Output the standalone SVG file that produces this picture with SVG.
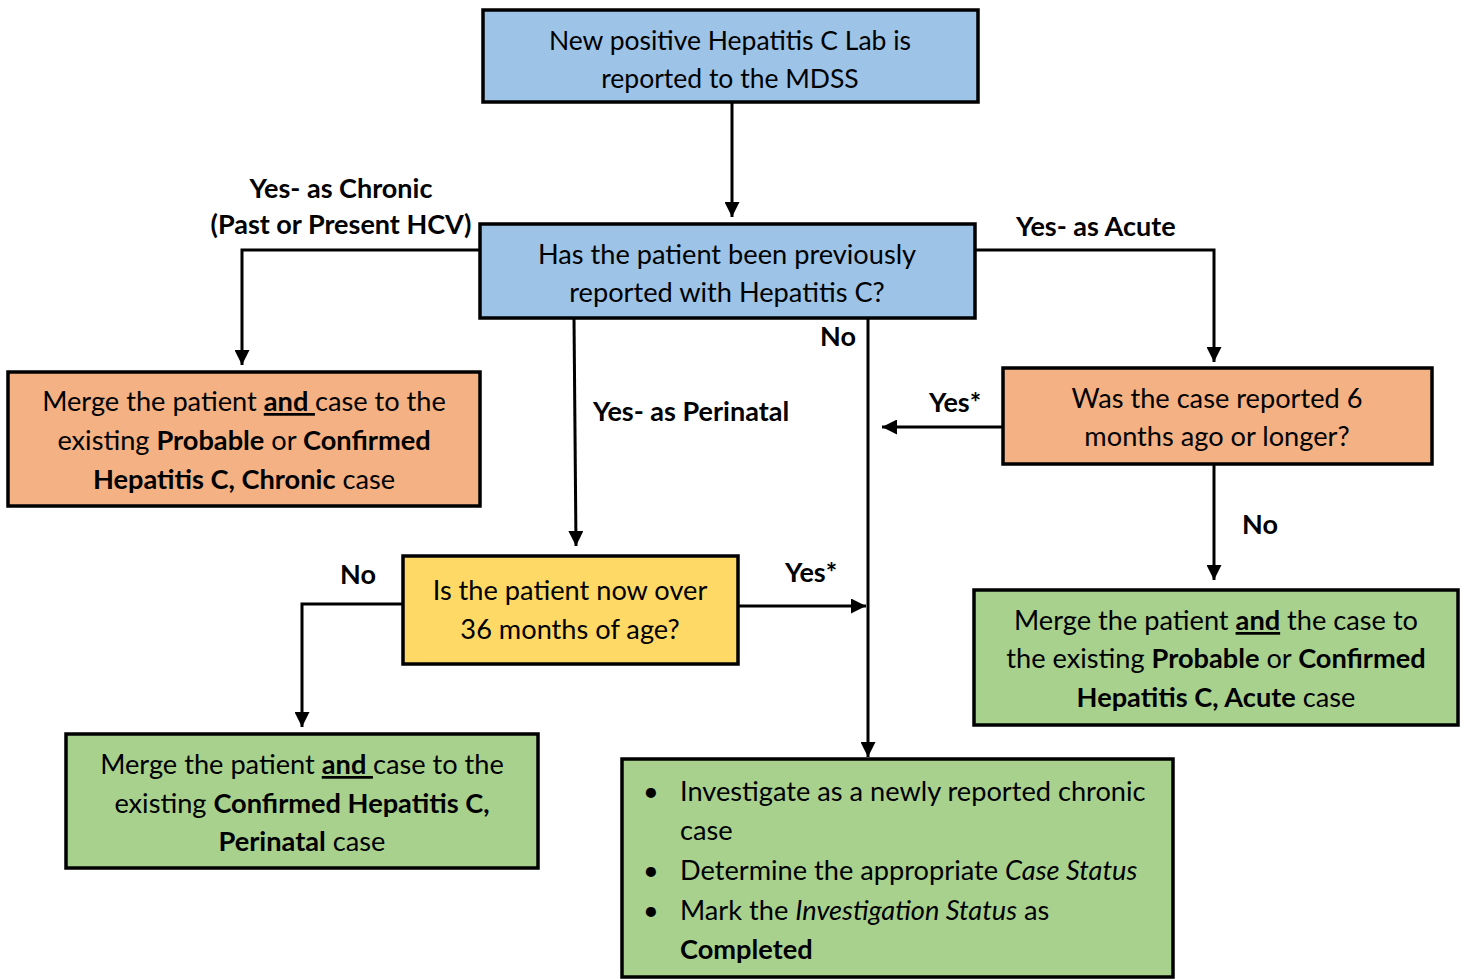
<svg xmlns="http://www.w3.org/2000/svg" width="1464" height="979" viewBox="0 0 1464 979">
<defs>
<style>
.box{stroke:#000;stroke-width:3.5}
.blue{fill:#9DC3E6}
.orange{fill:#F4B183}
.yellow{fill:#FFD966}
.green{fill:#A9D18E}
text{font-family:Lato,"Open Sans","Liberation Sans",sans-serif;font-size:27.2px;fill:#000}
.c{text-anchor:middle}
.lbl{font-weight:bold;font-size:27px}
.b{font-weight:bold}
.i{font-style:italic}
.u{text-decoration:underline}
.sm{font-size:26.5px}
.conn{fill:none;stroke:#000;stroke-width:3}
</style>
<marker id="ah" viewBox="0 0 10 10" refX="10" refY="5" markerWidth="15" markerHeight="15" markerUnits="userSpaceOnUse" orient="auto">
<path d="M0,0 L10,5 L0,10 z" fill="#000"/>
</marker>
</defs>
<rect width="1464" height="979" fill="#fff"/>
<g id="connectors">
<path class="conn" d="M732,102 V217" marker-end="url(#ah)"/>
<path class="conn" d="M480,250 H242 V365" marker-end="url(#ah)"/>
<path class="conn" d="M975,250 H1214 V362" marker-end="url(#ah)"/>
<path class="conn" d="M1003,427 H882" marker-end="url(#ah)"/>
<path class="conn" d="M1214,464 V580" marker-end="url(#ah)"/>
<path class="conn" d="M574,318 L576,546" marker-end="url(#ah)"/>
<path class="conn" d="M868,318 V757" marker-end="url(#ah)"/>
<path class="conn" d="M738,606 H866" marker-end="url(#ah)"/>
<path class="conn" d="M403,604 H302 V727" marker-end="url(#ah)"/>
<text class="lbl c" x="341" y="198">Yes- as Chronic</text>
<text class="lbl c" x="341" y="234">(Past or Present HCV)</text>
<text class="lbl" x="1016" y="236">Yes- as Acute</text>
<text class="lbl" x="593" y="421">Yes- as Perinatal</text>
<text class="lbl" x="820" y="346">No</text>
<text class="lbl" x="929" y="412">Yes*</text>
<text class="lbl" x="1242" y="534">No</text>
<text class="lbl" x="785" y="582">Yes*</text>
<text class="lbl" x="340" y="584">No</text>
</g>
<g id="n1">
<rect class="box blue" x="483" y="10" width="495" height="92"/>
<text class="c sm" x="730" y="50">New positive Hepatitis C Lab is</text>
<text class="c sm" x="730" y="88">reported to the MDSS</text>
</g>
<g id="n2">
<rect class="box blue" x="480" y="224" width="495" height="94"/>
<text class="c" x="727" y="264">Has the patient been previously</text>
<text class="c" x="727" y="302">reported with Hepatitis C?</text>
</g>
<g id="n3">
<rect class="box orange" x="8" y="372" width="472" height="134"/>
<text class="c" x="244" y="411">Merge the patient <tspan class="b u">and </tspan>case to the</text>
<text class="c" x="244" y="450">existing <tspan class="b">Probable</tspan> or <tspan class="b">Confirmed</tspan></text>
<text class="c" x="244" y="489"><tspan class="b">Hepatitis C, Chronic</tspan> case</text>
</g>
<g id="n4">
<rect class="box orange" x="1003" y="368" width="429" height="96"/>
<text class="c" x="1217" y="408">Was the case reported 6</text>
<text class="c" x="1217" y="446">months ago or longer?</text>
</g>
<g id="n5">
<rect class="box yellow" x="403" y="556" width="335" height="108"/>
<text class="c" x="570" y="600">Is the patient now over</text>
<text class="c" x="570" y="639">36 months of age?</text>
</g>
<g id="n6">
<rect class="box green" x="974" y="590" width="484" height="135"/>
<text class="c" x="1216" y="630">Merge the patient <tspan class="b u">and</tspan> the case to</text>
<text class="c" x="1216" y="668">the existing <tspan class="b">Probable</tspan> or <tspan class="b">Confirmed</tspan></text>
<text class="c" x="1216" y="707"><tspan class="b">Hepatitis C, Acute</tspan> case</text>
</g>
<g id="n7">
<rect class="box green" x="66" y="734" width="472" height="134"/>
<text class="c" x="302" y="774">Merge the patient <tspan class="b u">and </tspan>case to the</text>
<text class="c" x="302" y="813">existing <tspan class="b">Confirmed Hepatitis C,</tspan></text>
<text class="c" x="302" y="851"><tspan class="b">Perinatal</tspan> case</text>
</g>
<g id="n8">
<rect class="box green" x="622" y="759" width="551" height="218"/>
<text x="643" y="801">•</text>
<text x="680" y="801">Investigate as a newly reported chronic</text>
<text x="680" y="840">case</text>
<text x="643" y="880">•</text>
<text x="680" y="880">Determine the appropriate <tspan class="i">Case Status</tspan></text>
<text x="643" y="920">•</text>
<text x="680" y="920">Mark the <tspan class="i">Investigation Status</tspan> as</text>
<text x="680" y="959" class="b">Completed</text>
</g>
</svg>
